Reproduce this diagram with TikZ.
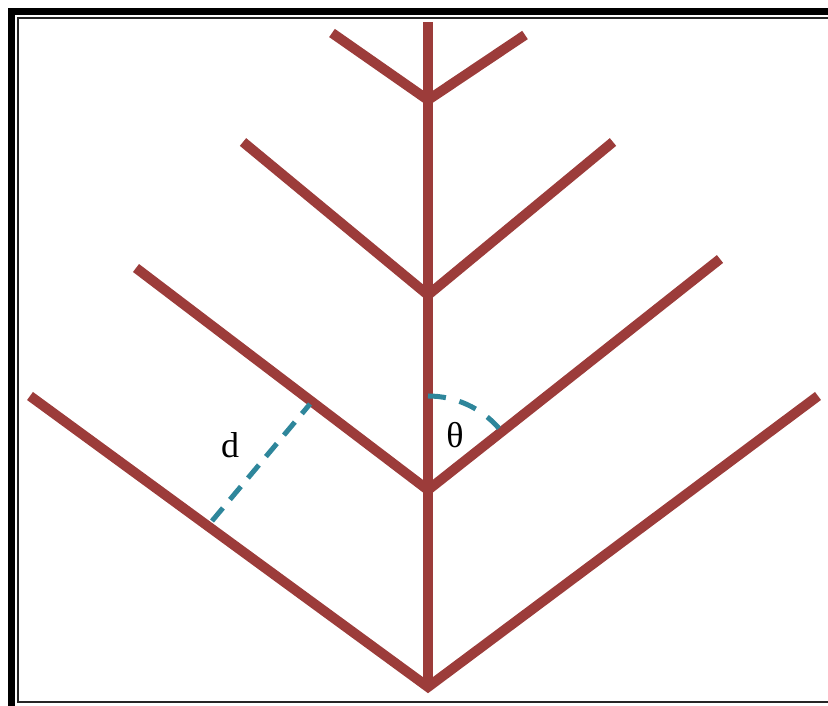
\documentclass[tikz,border=0pt]{standalone}
\usepackage{fontspec}
\setmainfont{Liberation Serif}
\usetikzlibrary{calc}
\definecolor{branchred}{RGB}{156,60,58}
\definecolor{dimteal}{RGB}{46,134,155}
\tikzstyle{branch} = [line width=10pt, draw=branchred, line cap=butt]
\tikzstyle{dimline} = [line width=5pt, draw=dimteal, dash pattern=on 17pt off 11pt]
\tikzstyle{anglearc} = [dimline, dash pattern=on 18pt off 14pt]
\tikzstyle{frameouter} = [line width=7pt, draw=black]
\tikzstyle{frameinner} = [line width=2.5pt, draw=black!85]
\tikzstyle{dimlabel} = [font=\fontsize{36}{40}\selectfont, inner sep=0pt]

\begin{document}
\begin{tikzpicture}[x=1pt, y=1pt]
\useasboundingbox (0,0) rectangle (828,706);

% Frame
\draw [frameouter] (11.5,0) -- (11.5,694.5) -- (828,694.5);
\draw [frameinner] (828,688) -- (18,688) -- (18,4) -- (828,4);

% Vertices on the trunk
\coordinate (top) at (428,684);
\coordinate (v1) at (428,19);
\coordinate (v2) at (428,216);
\coordinate (v3) at (428,411);
\coordinate (v4) at (428,606);

% Branch tips
\coordinate (l1) at (30,310);
\coordinate (r1) at (818,310);
\coordinate (l2) at (136,438);
\coordinate (r2) at (720,447);
\coordinate (l3) at (243,564);
\coordinate (r3) at (613,564);
\coordinate (l4) at (332,673);
\coordinate (r4) at (525,671);

% Trunk and branches
\draw [branch] (v1) -- (top);
\draw [branch] (l1) -- (v1) -- (r1);
\draw [branch] (l2) -- (v2) -- (r2);
\draw [branch] (l3) -- (v3) -- (r3);
\draw [branch] (l4) -- (v4) -- (r4);

% Spacing d
\coordinate (da) at (212,185);
\coordinate (db) at (310,302);
\draw [dimline] (da) -- (db);
\node (dlabel) [dimlabel] at (230,261) {d};

% Angle theta
\draw [anglearc] ($(v2)+(90:94)$) arc[start angle=90, end angle=41, radius=94];
\node (thlabel) [dimlabel] at (455,271) {θ};

\end{tikzpicture}
\end{document}
